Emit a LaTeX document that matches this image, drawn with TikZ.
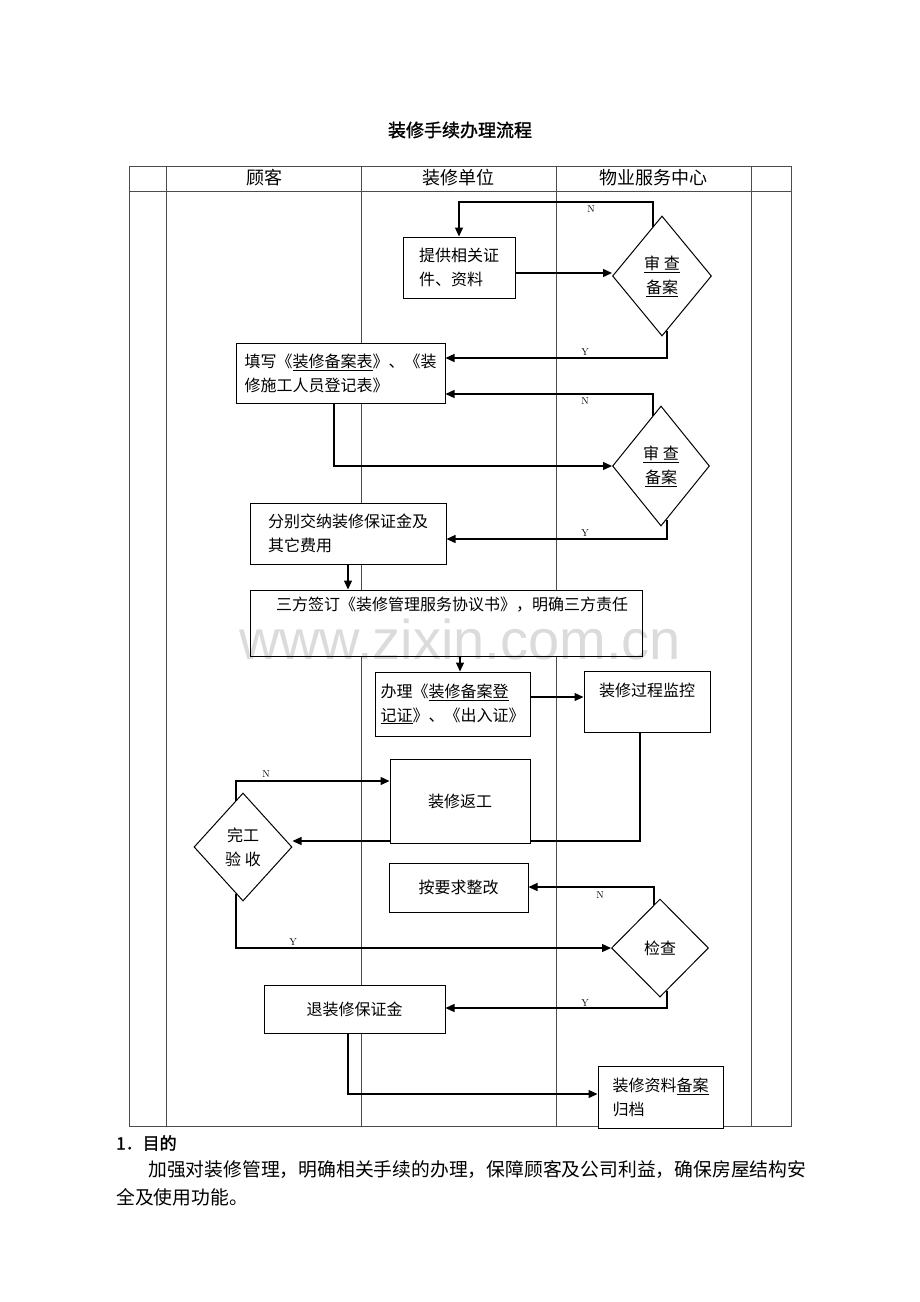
\documentclass[tikz,border=0pt]{standalone}
\usepackage{fontspec}
\newfontfamily\cjk{Noto Sans CJK SC}
\newfontfamily\cjkb{Noto Sans CJK SC}[FakeBold=1.5]
\newfontfamily\wmfont{Liberation Sans}
\usetikzlibrary{shapes.geometric,arrows.meta,calc}
\begin{document}
\begin{tikzpicture}[x=1pt,y=-1pt,
 box/.style={draw,line width=1pt,fill=white,inner sep=0pt,align=left,font=\cjk\fontsize{16}{24}\selectfont},
 dia/.style={diamond,draw,line width=1pt,fill=white,inner sep=0pt,align=center,font=\cjk\fontsize{16}{24}\selectfont},
 txt/.style={inner sep=0pt,font=\cjk\fontsize{16}{24}\selectfont},
 hdr/.style={inner sep=0pt,font=\cjk\fontsize{18}{22}\selectfont},
 conn/.style={line width=1.3pt},
 arr/.style={line width=1.3pt,-{Triangle[length=9pt,width=8pt]}},
 yn/.style={inner sep=0pt,font=\fontsize{10}{12}\selectfont},
 grid/.style={line width=0.9pt,draw=black!70}]

\path[fill=white] (0,0) rectangle (920,1302);
\useasboundingbox (0,0) rectangle (920,1302);

% title
\node[inner sep=0pt,font=\cjkb\fontsize{18}{22}\selectfont] (title) at (460,130) {装修手续办理流程};

% table
\draw[grid] (129,166) rectangle (791,1126);
\draw[grid] (129,191) -- (791,191);
\foreach \x in {166,361,556,751} \draw[grid] (\x,166) -- (\x,1126);
\node[hdr] (h1) at (264,178) {顾客};
\node[hdr] (h2) at (458,178) {装修单位};
\node[hdr] (h3) at (653,178) {物业服务中心};

% boxes
\node[box,minimum width=112pt,minimum height=61pt] (b1) at (459,267.5) {提供相关证\\件、资料};
\node[box,minimum width=209pt,minimum height=60pt] (b2) at (340.5,373) {填写《\underline{装修备案表}》、《装\\修施工人员登记表》};
\node[box,minimum width=196pt,minimum height=61pt] (b3) at (348,533.5) {分别交纳装修保证金及\\其它费用};
\node[box,minimum width=392pt,minimum height=66pt] (b4) at (446,623) {};
\node[txt] (t4) at (452,605) {三方签订《装修管理服务协议书》，明确三方责任};
\node[box,minimum width=155pt,minimum height=64pt] (b5) at (452.5,704) {办理《\underline{装修备案登}\\\underline{记证}》、《出入证》};
\node[box,minimum width=126pt,minimum height=61pt] (b6) at (647,701.5) {};
\node[txt] (t6) at (647,690) {装修过程监控};
\node[box,minimum width=140pt,minimum height=84pt] (b7) at (460,801) {装修返工};
\node[box,minimum width=139pt,minimum height=49pt] (b8) at (458.5,887.5) {按要求整改};
\node[box,minimum width=181pt,minimum height=48pt] (b9) at (354.5,1009) {退装修保证金};
\node[box,minimum width=125pt,minimum height=62pt] (b10) at (660.5,1097) {装修资料\underline{备案}\\归档};

% diamonds
\node[dia,minimum width=99pt,minimum height=120pt] (d1) at (662,276) {\underline{审~查}\\\underline{备案}};
\node[dia,minimum width=97pt,minimum height=120pt] (d2) at (661,466) {\underline{审~查}\\\underline{备案}};
\node[dia,minimum width=98pt,minimum height=108pt] (d3) at (243,847) {完工\\验~收};
\node[dia,minimum width=97pt,minimum height=98pt] (d4) at (660,948) {检查};

% helper coordinates
\coordinate (n1) at (459,202);
\coordinate (y1) at (667,358);
\coordinate (n2) at (653,394);
\coordinate (c2) at (334,466);
\coordinate (y2) at (667,539);
\coordinate (x460) at (460,0);
\coordinate (c6) at (640,841);
\coordinate (n3) at (236,781);
\coordinate (y3) at (236,948);
\coordinate (n4) at (654,887);
\coordinate (y4) at (667,1008);
\coordinate (c9) at (348,1094);

% connectors
\draw[arr] ([shift={(-9,11)}]d1.north) |- (n1) -- (b1.north);
\draw[arr] ([yshift=-5.5pt]b1.east) -- ([yshift=-5.5pt]b1.east -| d1.west);
\draw[arr] ([shift={(5,-6)}]d1.south) -- (y1) -- (y1 -| b2.east);
\draw[arr] ([shift={(-8,10)}]d2.north) -- (n2) -- (n2 -| b2.east);
\draw[arr] (c2 |- b2.south) -- (c2) -- (d2.west);
\draw[arr] ([shift={(6,-7)}]d2.south) -- (y2) -- (y2 -| b3.east);
\draw[arr] (b3.south) -- (b3.south |- b4.north);
\draw[arr] (b4.south -| x460) -- (b5.north -| x460);
\draw[arr] ([yshift=7pt]b5.east) -- ([yshift=7pt]b5.east -| b6.west);
\draw[conn] (c6 |- b6.south) -- (c6) -- (c6 -| b7.east);
\draw[arr] (c6 -| b7.west) -- (c6 -| d3.east);
\draw[arr] ([shift={(-7,8)}]d3.north) -- (n3) -- (n3 -| b7.west);
\draw[arr] ([shift={(-7,-8)}]d3.south) -- (y3) -- (d4.west);
\draw[arr] ([shift={(-6,6)}]d4.north) -- (n4) -- (n4 -| b8.east);
\draw[arr] ([shift={(7,-7)}]d4.south) -- (y4) -- (y4 -| b9.east);
\draw[arr] (c9 |- b9.south) -- (c9) -- (b10.west |- c9);

% Y/N labels
\node[yn] (lN1) at (591,209) {N};
\node[yn] (lY1) at (585,352) {Y};
\node[yn] (lN2) at (585,401) {N};
\node[yn] (lY2) at (585,533) {Y};
\node[yn] (lN3) at (266,774) {N};
\node[yn] (lY3) at (293,942) {Y};
\node[yn] (lN4) at (600,895) {N};
\node[yn] (lY4) at (585,1003) {Y};

% watermark
\node[inner sep=0pt,font=\wmfont\fontsize{56}{60}\selectfont,text=black,opacity=0.14] (wm) at (460,639) {www.zixin.com.cn};

% text below
\node[inner sep=0pt,anchor=west,font=\cjkb\fontsize{17}{20}\selectfont] (s1) at (116,1143) {1．目的};
\node[inner sep=0pt,anchor=west,font=\cjk\fontsize{18.8}{22}\selectfont] (p1) at (148,1170) {加强对装修管理，明确相关手续的办理，保障顾客及公司利益，确保房屋结构安};
\node[inner sep=0pt,anchor=west,font=\cjk\fontsize{18.8}{22}\selectfont] (p2) at (116,1197) {全及使用功能。};
\end{tikzpicture}
\end{document}
